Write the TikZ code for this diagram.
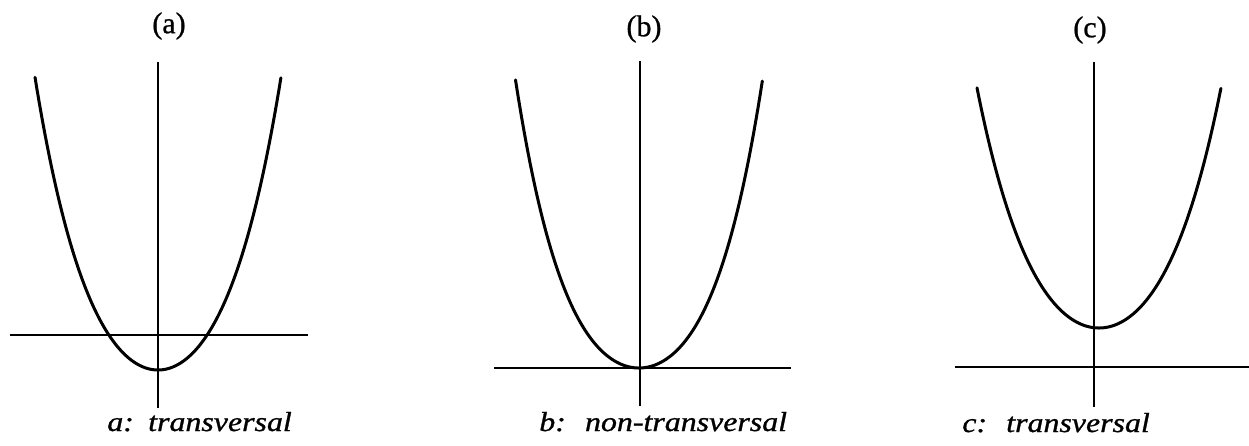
\documentclass[tikz,border=0pt]{standalone}
\usepackage{fontspec}
\setmainfont{Liberation Serif}
\usepackage{graphicx}
\begin{document}
\begin{tikzpicture}[x=0.6pt,y=-0.6pt,
  axis/.style={line width=1.1pt},
  curve/.style={line width=1.8pt,line join=round,line cap=round},
  panellabel/.style={inner sep=0pt,font=\fontsize{18}{21}\selectfont\addfontfeature{FakeBold=0.8}},
  caption/.style={inner sep=0pt,anchor=base west,font=\fontsize{16.5}{19}\selectfont\itshape\addfontfeature{FakeBold=0.9}}]
\useasboundingbox (0,0) rectangle (1249,445);
% panel a
\coordinate (a-top) at (158,62);
\coordinate (a-bot) at (158,408);
\coordinate (a-l) at (10,335);
\coordinate (a-r) at (308,335);
\draw[axis] (a-top) -- (a-bot);
\draw[axis] (a-l) -- (a-r);
\draw[curve] plot[domain=-1.23:1.23,samples=121,variable=\t]
  ({158+100*\t},{370-136*\t*\t-38*\t*\t*\t*\t});
\node[panellabel] (la) at (169,26) {(a)};
\node[caption] (ca) at (107,431) {\scalebox{1.16}[1]{a:\hspace{0.45em}transversal}};
% panel b
\coordinate (b-top) at (640,61);
\coordinate (b-bot) at (640,406);
\coordinate (b-l) at (494,368);
\coordinate (b-r) at (791,368);
\draw[axis] (b-top) -- (b-bot);
\draw[axis] (b-l) -- (b-r);
\draw[curve] plot[domain=-1.235:1.235,samples=121,variable=\t]
  ({639+100*\t},{368-116*\t*\t-47.8*\t*\t*\t*\t});
\node[panellabel] (lb) at (644,29) {(b)};
\node[caption] (cb) at (539,431) {\scalebox{1.16}[1]{b:\hspace{0.6em}non-transversal}};
% panel c
\coordinate (c-top) at (1094,62);
\coordinate (c-bot) at (1094,407);
\coordinate (c-l) at (955,367);
\coordinate (c-r) at (1249,367);
\draw[axis] (c-top) -- (c-bot);
\draw[axis] (c-l) -- (c-r);
\draw[curve] plot[domain=-1.22:1.22,samples=121,variable=\t]
  ({1099+100*\t},{328-117.0*\t*\t-29.8*\t*\t*\t*\t});
\node[panellabel] (lc) at (1090,30) {(c)};
\node[caption] (cc) at (962,432) {\scalebox{1.16}[1]{c:\hspace{0.6em}transversal}};
\end{tikzpicture}
\end{document}
